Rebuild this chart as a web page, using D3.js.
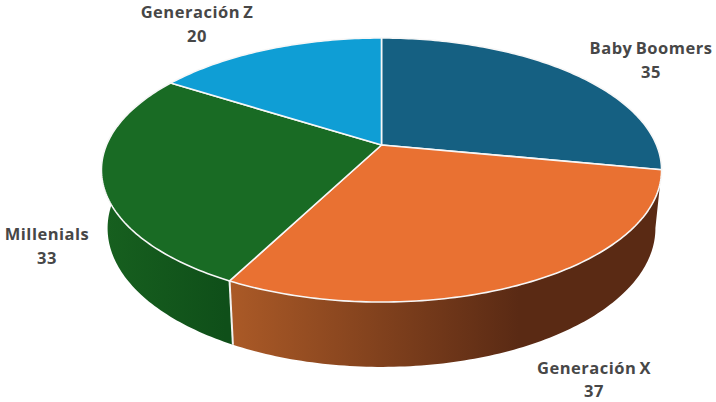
<!DOCTYPE html>
<html>
<head>
<meta charset="utf-8">
<script src="https://cdn.jsdelivr.net/npm/d3@7"></script>
<style>
  html, body { margin: 0; padding: 0; background: #fff; }
  svg { display: block; }
  text { font-family: "Open Sans", sans-serif; font-weight: 700; font-size: 16.5px; letter-spacing: 0.5px; fill: #474747; text-anchor: middle; word-spacing: -1.5px; }
</style>
</head>
<body>
<svg id="chart" width="716" height="402"></svg>
<script>
const categories = ["Baby Boomers", "Generación X", "Millenials", "Generación Z"];
const values = [35, 37, 33, 20];
const topColors = ["#156082", "#E97132", "#196B24", "#0F9ED5"];
const wallStops = [null, ["#AB5A27", "#5A2A14", "#5A2A14"], ["#17601F", "#0F4F19", "#0F4F19"], null];
const wallMid = [null, 0.67, 0.95, null];
const labelSpots = [[651, 54, 78], [594, 374, 397], [47, 240, 264], [197, 18, 42]];

const svg = d3.select("#chart");
const defs = svg.append("defs");

// perspective of the disc: apex, half widths and how much the near side grows
const cx = 381.5, cy = 145, a = 275, b = 127.3, k = 0.1894;
const depth = 57, shrink = 0.978, stretch = 1.05;

// angle 0 is the top of the disc, running clockwise
function project(angle, low) {
    const u = Math.sin(angle), v = -Math.cos(angle), d = 1 - k * v;
    const x = a * u / d, y = b * v / d;
    return low ? [cx + x * shrink, cy + y * stretch + depth] : [cx + x, cy + y];
}

function rim(a0, a1, low) {
    const n = Math.ceil(Math.abs(a1 - a0) * 60);
    return d3.range(n + 1).map(i => project(a0 + (a1 - a0) * i / n, low));
}

const pie = d3.pie().sort(null).value(d => d)(values);
const line = d3.line();

// side walls, only the two front slices show any
pie.forEach((s, i) => {
    if (!wallStops[i]) return;
    const pts = rim(s.startAngle, s.endAngle, false).concat(rim(s.endAngle, s.startAngle, true));
    const xs = d3.extent(pts, p => p[0]);
    const grad = defs.append("linearGradient")
        .attr("id", "wall" + i)
        .attr("gradientUnits", "userSpaceOnUse")
        .attr("x1", xs[0]).attr("x2", xs[1]).attr("y1", 0).attr("y2", 0);
    grad.append("stop").attr("offset", 0).attr("stop-color", wallStops[i][0]);
    grad.append("stop").attr("offset", wallMid[i]).attr("stop-color", wallStops[i][1]);
    grad.append("stop").attr("offset", 1).attr("stop-color", wallStops[i][2]);
    svg.append("path")
        .attr("d", line(pts) + "Z")
        .attr("fill", "url(#wall" + i + ")")
        .attr("stroke", "none");
});

// seam between the two walls
const seam = pie[1].endAngle;
svg.append("path")
    .attr("d", line([project(seam, false), project(seam, true)]))
    .attr("stroke", "#f2f2f2").attr("stroke-width", 2).attr("fill", "none");

// top faces
pie.forEach((s, i) => {
    svg.append("path")
        .attr("d", line([[cx, cy]].concat(rim(s.startAngle, s.endAngle, false))) + "Z")
        .attr("fill", topColors[i])
        .attr("stroke", "#f7f7f7")
        .attr("stroke-width", 1.6)
        .attr("stroke-linejoin", "round");
});

// labels
categories.forEach((c, i) => {
    const p = labelSpots[i];
    svg.append("text").attr("x", p[0]).attr("y", p[1]).text(c);
    svg.append("text").attr("x", p[0]).attr("y", p[2]).text(values[i]);
});
</script>
</body>
</html>
